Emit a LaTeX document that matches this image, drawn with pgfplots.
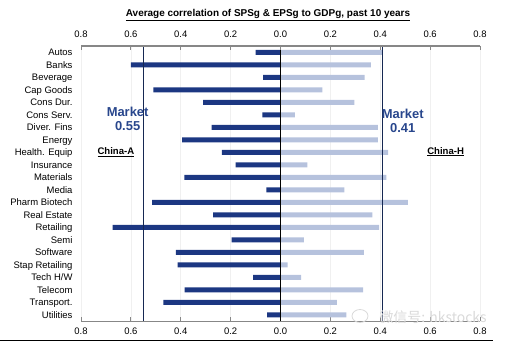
\documentclass[border=0pt]{standalone}
\usepackage{pgfplots}
\pgfplotsset{compat=1.18}
\usepackage{fontspec}
\setmainfont{Liberation Sans}
\newfontfamily\cjk{Noto Sans CJK SC}
\definecolor{cA}{RGB}{28,55,130}
\definecolor{cH}{RGB}{182,194,221}
\definecolor{mline}{RGB}{22,40,82}
\definecolor{mtext}{RGB}{40,70,140}
\definecolor{axgray}{RGB}{135,135,135}
\begin{document}
\begin{tikzpicture}[x=1bp,y=1bp]
\useasboundingbox (0,0) rectangle (521,342);
\node[font=\bfseries\fontsize{10}{11}\selectfont, anchor=center] at (268,327) {\underline{Average correlation of SPSg \& EPSg to GDPg, past 10 years}};
\begin{axis}[
  at={(81bp,21bp)}, anchor=south west, scale only axis,
  width=399bp, height=275bp,
  xmin=-0.8, xmax=0.8, ymin=-0.5, ymax=21.5, y dir=reverse,
  axis x line*=bottom, axis y line*=left,
  y axis line style={draw=none},
  x axis line style={axgray, line width=0.9bp},
  xtick={-0.8,-0.6,-0.4,-0.2,0,0.2,0.4,0.6,0.8},
  xticklabels={0.8,0.6,0.4,0.2,0.0,0.2,0.4,0.6,0.8},
  xtick style={axgray, line width=0.8bp},
  major tick length=4bp,
  xmajorgrids, grid style={gray!12, line width=0.6bp},
  xticklabel style={font=\fontsize{9.5}{11}\selectfont, yshift=-3bp},
  ytick={0,...,21},
  yticklabels={Autos,Banks,Beverage,Cap Goods,Cons Dur.,Cons Serv.,Diver. Fins,Energy,Health. Equip,Insurance,Materials,Media,Pharm Biotech,Real Estate,Retailing,Semi,Software,Stap Retailing,Tech H/W,Telecom,Transport.,Utilities},
  ytick style={draw=none},
  yticklabel style={font=\fontsize{9.5}{11}\selectfont, anchor=base east, xshift=-5bp, yshift=-3.4bp},
  clip=false,
]
\addplot[xbar, bar width=5bp, bar shift=0pt, fill=cA, draw=none] coordinates {
(-0.10,0) (-0.60,1) (-0.07,2) (-0.51,3) (-0.31,4) (-0.073,5) (-0.276,6) (-0.394,7)
(-0.235,8) (-0.18,9) (-0.385,10) (-0.057,11) (-0.515,12) (-0.27,13) (-0.673,14)
(-0.196,15) (-0.42,16) (-0.413,17) (-0.11,18) (-0.384,19) (-0.47,20) (-0.054,21)};
\addplot[xbar, bar width=5bp, bar shift=0pt, fill=cH, draw=none] coordinates {
(0.41,0) (0.362,1) (0.337,2) (0.168,3) (0.296,4) (0.058,5) (0.39,6) (0.39,7)
(0.432,8) (0.108,9) (0.425,10) (0.256,11) (0.511,12) (0.368,13) (0.395,14)
(0.094,15) (0.334,16) (0.029,17) (0.083,18) (0.331,19) (0.226,20) (0.264,21)};
\addplot[mline, line width=1bp, no marks] coordinates {(-0.55,-0.5) (-0.55,21.5)};
\addplot[mline, line width=1bp, no marks] coordinates {(0.41,-0.5) (0.41,21.5)};
\addplot[black, line width=1.2bp, no marks] coordinates {(0,-0.5) (0,21.5)};
\node[mtext, font=\bfseries\fontsize{13}{14.5}\selectfont, align=center] at (axis cs:-0.613,5.35) {Market\\0.55};
\node[mtext, font=\bfseries\fontsize{13}{14.5}\selectfont, align=center] at (axis cs:0.49,5.5) {Market\\0.41};
\node[font=\bfseries\fontsize{9.6}{11}\selectfont] at (axis cs:-0.66,8.0) {\underline{China-A}};
\node[font=\bfseries\fontsize{9.6}{11}\selectfont] at (axis cs:0.662,7.95) {\underline{China-H}};
\end{axis}
\begin{axis}[
  at={(81bp,21bp)}, anchor=south west, scale only axis,
  width=399bp, height=275bp,
  xmin=-0.8, xmax=0.8, ymin=-0.5, ymax=21.5,
  axis x line*=top, axis y line=none,
  x axis line style={axgray, line width=2bp},
  xtick={-0.8,-0.6,-0.4,-0.2,0,0.2,0.4,0.6,0.8},
  xticklabels={0.8,0.6,0.4,0.2,0.0,0.2,0.4,0.6,0.8},
  xticklabel pos=upper,
  xtick style={axgray, line width=0.8bp},
  major tick length=4bp,
  xticklabel style={font=\fontsize{9.5}{11}\selectfont, yshift=5bp},
  ytick=\empty,
]
\addplot[draw=none] coordinates {(0,0)};
\end{axis}
\node[gray!30, font=\cjk\fontsize{14}{15}\selectfont, anchor=west] at (376,25) {微信号: hkstocks};
\draw[gray!30, line width=0.8bp] (360,26) ellipse (8 and 6.5);
\draw[black, line width=1.2bp] (0,1.2) -- (493,1.2);
\end{tikzpicture}
\end{document}
